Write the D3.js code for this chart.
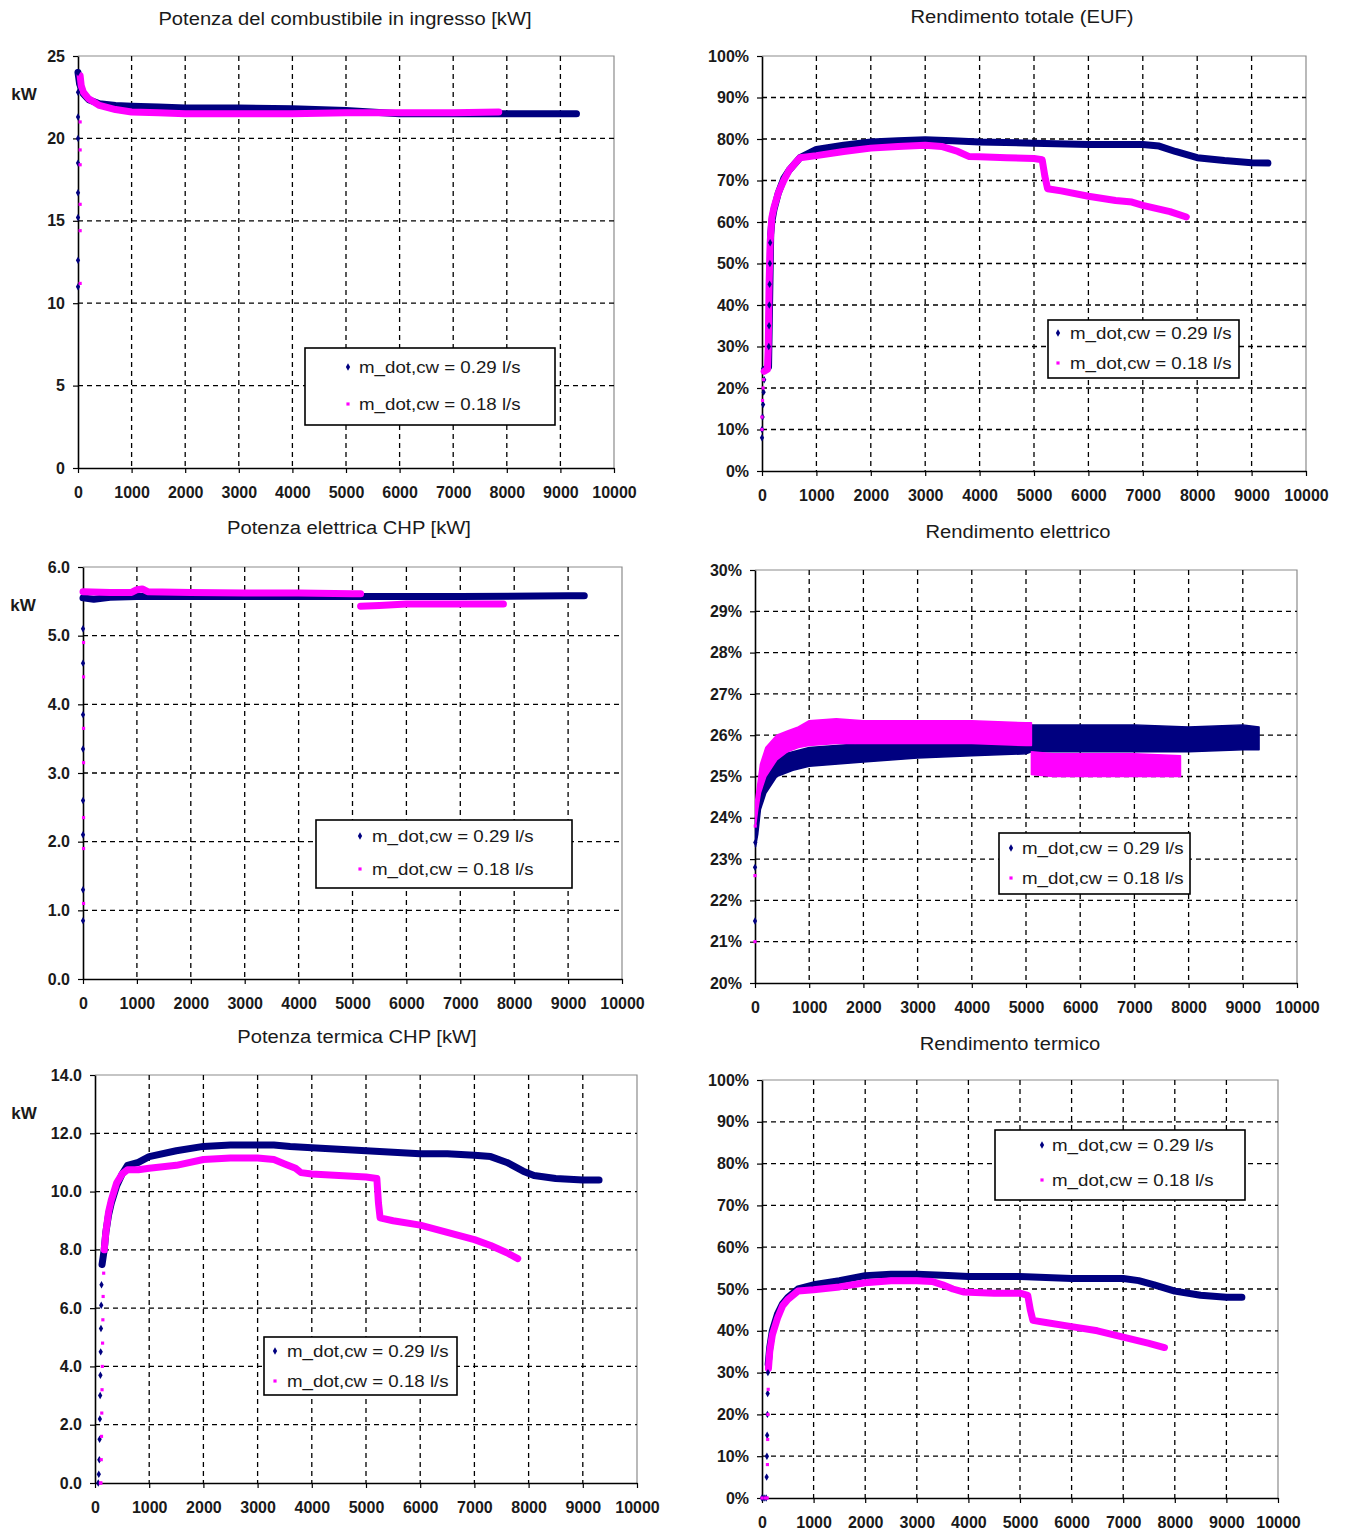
<!DOCTYPE html>
<html>
<head>
<meta charset="utf-8">
<script src="https://cdn.jsdelivr.net/npm/d3@7"></script>
<style>
  body { margin: 0; background: #fff; }
  svg text { font-family: "Liberation Sans", Arial, sans-serif; fill: #1a1a1a; }
</style>
</head>
<body>
<svg id="chart" width="1345" height="1531"></svg>
<script>
// ---- shared ----
const xTicks = [0, 1000, 2000, 3000, 4000, 5000, 6000, 7000, 8000, 9000, 10000];
const seriesLabels = ["m_dot,cw = 0.29 l/s", "m_dot,cw = 0.18 l/s"];
const panelTitles = [
  "Potenza del combustibile in ingresso [kW]",
  "Rendimento totale (EUF)",
  "Potenza elettrica CHP [kW]",
  "Rendimento elettrico",
  "Potenza termica CHP [kW]",
  "Rendimento termico"
];

// ---- fuel input power [kW] ----
const fuelTicks = [0, 5, 10, 15, 20, 25];
const fuelDots29T = [0, 0, 0, 0, 0, 0, 0, 0, 0];
const fuelDots29V = [11.0, 12.6, 15.2, 16.7, 18.5, 20.0, 21.3, 22.8, 24.0];
const fuelLine29T = [0, 30, 100, 200, 400, 700, 1000, 1500, 2000, 3000, 4000, 5000, 6000, 7000, 8000, 9000, 9300];
const fuelLine29V = [24.0, 23.3, 22.7, 22.35, 22.1, 22.0, 21.95, 21.9, 21.85, 21.85, 21.8, 21.7, 21.5, 21.5, 21.5, 21.5, 21.5];
const fuelDots18T = [40, 40, 40, 40, 40, 40];
const fuelDots18V = [11.2, 14.4, 16.0, 18.4, 19.3, 21.0];
const fuelLine18T = [40, 60, 100, 200, 400, 700, 1000, 1500, 2000, 3000, 4000, 5000, 6000, 7000, 7850];
const fuelLine18V = [23.8, 23.2, 22.8, 22.4, 22.0, 21.75, 21.6, 21.55, 21.5, 21.5, 21.5, 21.55, 21.55, 21.55, 21.6];

// ---- total efficiency EUF [%] ----
const eufTicks = [0, 10, 20, 30, 40, 50, 60, 70, 80, 90, 100];
const eufDots29T = [0, 0, 10, 20, 30, 40, 125, 130, 135, 140, 145, 150];
const eufDots29V = [8, 10, 13, 16, 19, 22, 30, 35, 40, 45, 50, 55];
const eufLine29T = [50, 120, 160, 180, 220, 300, 400, 500, 700, 1000, 1500, 2000, 2500, 3000, 3500, 4000, 5000, 6000, 7000, 7300, 7600, 8000, 8500, 9000, 9300];
const eufLine29V = [24.5, 25, 57, 60, 63, 67, 70.5, 72.5, 75.5, 77.5, 78.5, 79.3, 79.6, 79.8, 79.6, 79.3, 79, 78.7, 78.7, 78.3, 77, 75.5, 74.8, 74.3, 74.2];
const eufDots18T = [0, 0, 10, 20, 30];
const eufDots18V = [10, 13, 17, 20, 22];
const eufLine18T = [40, 100, 115, 130, 150, 180, 220, 300, 400, 500, 700, 1000, 1500, 2000, 2500, 3000, 3300, 3600, 3800, 4000, 4500, 5000, 5150, 5200, 5250, 5500, 6000, 6500, 6800, 7000, 7500, 7800];
const eufLine18V = [24, 24.5, 30, 45, 55, 61, 63.5, 67, 70, 72.5, 75.5, 76, 77, 77.8, 78.2, 78.5, 78.2, 77, 75.8, 75.7, 75.5, 75.3, 75, 71, 68, 67.5, 66.2, 65.2, 64.8, 64, 62.5, 61.2];

// ---- electric power [kW] ----
const elTicks = [0, 1, 2, 3, 4, 5, 6];
const elDots29T = [0, 0, 0, 0, 0, 0, 0, 0];
const elDots29V = [0.85, 1.3, 2.1, 2.6, 3.35, 3.85, 4.6, 5.1];
const elLine29T = [0, 200, 500, 1000, 3000, 5000, 7000, 9000, 9300];
const elLine29V = [5.55, 5.53, 5.56, 5.57, 5.57, 5.57, 5.57, 5.58, 5.58];
const elDots18T = [10, 10, 10, 10, 10, 10, 10];
const elDots18V = [1.1, 1.9, 2.35, 3.15, 3.65, 4.4, 4.9];
const elLine18T = [0, 500, 900, 1000, 1100, 1200, 2000, 3000, 4000, 5000, 5150, 5150, 5150, 5500, 6000, 7000, 7800];
const elLine18V = [5.64, 5.63, 5.63, 5.67, 5.68, 5.64, 5.63, 5.62, 5.62, 5.61, 5.61, null, 5.43, 5.44, 5.46, 5.46, 5.46];

// ---- electric efficiency [%] (scatter band, low/high edges) ----
const etaElTicks = [20, 21, 22, 23, 24, 25, 26, 27, 28, 29, 30];
const etaElDots29T = [0, 0, 5];
const etaElDots29V = [21.5, 22.8, 23.4];
const etaEl29T = [10, 50, 100, 200, 400, 700, 1000, 2000, 3000, 4000, 5000, 5100, 6000, 7000, 8000, 9000, 9300];
const etaEl29Lo = [23.3, 23.6, 24.2, 24.6, 25.0, 25.15, 25.25, 25.35, 25.45, 25.5, 25.55, 25.6, 25.6, 25.6, 25.6, 25.65, 25.65];
const etaEl29Hi = [24.0, 24.6, 25.0, 25.3, 25.5, 25.6, 25.7, 25.8, 25.85, 25.9, 26.0, 26.25, 26.25, 26.25, 26.2, 26.25, 26.2];
const etaElDots18T = [0, 0, 5];
const etaElDots18V = [21.0, 22.6, 23.8];
const etaEl18T = [10, 50, 100, 200, 400, 600, 800, 1000, 1500, 2000, 3000, 4000, 5000, 5100, 5100, 5100, 5500, 6000, 7000, 7850];
const etaEl18Lo = [23.8, 24.2, 24.6, 25.0, 25.4, 25.6, 25.7, 25.75, 25.8, 25.8, 25.8, 25.8, 25.75, 25.75, null, 25.05, 25.0, 25.0, 25.0, 25.0];
const etaEl18Hi = [24.4, 24.8, 25.3, 25.7, 26.0, 26.1, 26.2, 26.35, 26.4, 26.35, 26.35, 26.35, 26.3, 26.3, null, 25.6, 25.55, 25.55, 25.55, 25.5];

// ---- thermal power [kW] ----
const thTicks = [0, 2, 4, 6, 8, 10, 12, 14];
const thDots29T = [60, 70, 80, 85, 90, 95, 100, 105, 110, 115, 120, 130];
const thDots29V = [0, 0.3, 0.8, 1.5, 2.2, 3.0, 3.7, 4.5, 5.3, 6.1, 6.8, 7.5];
const thLine29T = [130, 170, 200, 250, 300, 400, 500, 600, 800, 1000, 1500, 2000, 2500, 3000, 3300, 3600, 4000, 4500, 5000, 5500, 6000, 6500, 7000, 7300, 7600, 7900, 8100, 8500, 9000, 9300];
const thLine29V = [7.5, 8.0, 8.6, 9.2, 9.6, 10.2, 10.6, 10.9, 11.0, 11.2, 11.4, 11.55, 11.6, 11.6, 11.6, 11.55, 11.5, 11.45, 11.4, 11.35, 11.3, 11.3, 11.25, 11.2, 11.0, 10.7, 10.55, 10.45, 10.4, 10.4];
const thDots18T = [100, 110, 115, 120, 125, 130, 135, 140, 145, 150, 160];
const thDots18V = [0, 0, 0.8, 1.6, 2.4, 3.2, 4.0, 4.8, 5.6, 6.4, 7.2];
const thLine18T = [170, 200, 250, 300, 400, 500, 600, 800, 1000, 1500, 2000, 2500, 3000, 3300, 3500, 3700, 3800, 4000, 4500, 5000, 5200, 5230, 5260, 5500, 6000, 6500, 7000, 7300, 7600, 7800];
const thLine18V = [8.0, 8.6, 9.3, 9.7, 10.3, 10.6, 10.75, 10.75, 10.8, 10.9, 11.1, 11.15, 11.15, 11.1, 10.95, 10.8, 10.65, 10.6, 10.55, 10.5, 10.45, 9.6, 9.1, 9.0, 8.85, 8.6, 8.35, 8.15, 7.9, 7.7];

// ---- thermal efficiency [%] ----
const etaThTicks = [0, 10, 20, 30, 40, 50, 60, 70, 80, 90, 100];
const etaThDots29T = [0, 40, 80, 90, 95, 100, 105, 110, 115];
const etaThDots29V = [0, 0, 0, 5, 10, 15, 20, 25, 30];
const etaThLine29T = [120, 150, 200, 300, 400, 500, 700, 1000, 1500, 2000, 2500, 3000, 3500, 4000, 5000, 6000, 7000, 7300, 7600, 8000, 8500, 9000, 9300];
const etaThLine29V = [32, 36, 40, 44, 46.5, 48, 50, 51, 52, 53.2, 53.5, 53.5, 53.3, 53, 53, 52.5, 52.5, 52, 51, 49.5, 48.5, 48, 48];
const etaThDots18T = [0, 60, 100, 105, 110, 115, 120];
const etaThDots18V = [0, 0, 0, 8, 14, 20, 26];
const etaThLine18T = [125, 150, 200, 300, 400, 500, 700, 1000, 1500, 2000, 2500, 3000, 3300, 3500, 3700, 3900, 4500, 5000, 5150, 5200, 5250, 5500, 6000, 6500, 7000, 7500, 7800];
const etaThLine18V = [31, 35, 39, 43, 46, 47.5, 49.5, 49.8, 50.5, 51.5, 52, 52, 51.8, 51, 50, 49.3, 49, 49, 48.5, 45, 42.5, 42, 41, 40, 38.5, 37, 36];

// ---- styling ----
const NAVY = "#000080";
const MAGENTA = "#ff00ff";
const zip = (t, v) => t.map((d, i) => ({ t: d, v: v[i] }));
const zip3 = (t, lo, hi) => t.map((d, i) => ({ t: d, lo: lo[i], hi: hi[i] }));
const intFmt = d3.format("d");
const oneFmt = d3.format(".1f");
const pctFmt = d => d + "%";

const panels = [
  { title: panelTitles[0], tx: 345, ty: 19, left: 78, right: 614, top: 56, bottom: 468,
    yTicks: fuelTicks, fmt: intFmt, unit: [24, 94],
    legend: { x: 305, y: 348, w: 250, h: 77, mx: 348, tx: 359, rows: [367, 404] },
    lines: [[zip(fuelLine29T, fuelLine29V), NAVY], [zip(fuelLine18T, fuelLine18V), MAGENTA]],
    dots: [[zip(fuelDots29T, fuelDots29V), NAVY], [zip(fuelDots18T, fuelDots18V), MAGENTA]] },
  { title: panelTitles[1], tx: 1022, ty: 17, left: 762, right: 1306, top: 56, bottom: 471,
    yTicks: eufTicks, fmt: pctFmt,
    legend: { x: 1048, y: 320, w: 191, h: 58, mx: 1058, tx: 1070, rows: [333, 363] },
    lines: [[zip(eufLine29T, eufLine29V), NAVY], [zip(eufLine18T, eufLine18V), MAGENTA]],
    dots: [[zip(eufDots29T, eufDots29V), NAVY], [zip(eufDots18T, eufDots18V), MAGENTA]] },
  { title: panelTitles[2], tx: 349, ty: 528, left: 83, right: 622, top: 567, bottom: 979,
    yTicks: elTicks, fmt: oneFmt, unit: [23, 605],
    legend: { x: 316, y: 820, w: 256, h: 68, mx: 360, tx: 372, rows: [836, 869] },
    lines: [[zip(elLine29T, elLine29V), NAVY], [zip(elLine18T, elLine18V), MAGENTA]],
    dots: [[zip(elDots29T, elDots29V), NAVY], [zip(elDots18T, elDots18V), MAGENTA]] },
  { title: panelTitles[3], tx: 1018, ty: 532, left: 755, right: 1297, top: 570, bottom: 983,
    yTicks: etaElTicks, fmt: pctFmt,
    legend: { x: 999, y: 833, w: 191, h: 61, mx: 1011, tx: 1022, rows: [848, 878] },
    bands: [[zip3(etaEl29T, etaEl29Lo, etaEl29Hi), NAVY], [zip3(etaEl18T, etaEl18Lo, etaEl18Hi), MAGENTA]],
    dots: [[zip(etaElDots29T, etaElDots29V), NAVY], [zip(etaElDots18T, etaElDots18V), MAGENTA]] },
  { title: panelTitles[4], tx: 357, ty: 1037, left: 95, right: 637, top: 1075, bottom: 1483,
    yTicks: thTicks, fmt: oneFmt, unit: [24, 1113],
    legend: { x: 264, y: 1337, w: 193, h: 58, mx: 275, tx: 287, rows: [1351, 1381] },
    lines: [[zip(thLine29T, thLine29V), NAVY], [zip(thLine18T, thLine18V), MAGENTA]],
    dots: [[zip(thDots29T, thDots29V), NAVY], [zip(thDots18T, thDots18V), MAGENTA]] },
  { title: panelTitles[5], tx: 1010, ty: 1044, left: 762, right: 1278, top: 1080, bottom: 1498,
    yTicks: etaThTicks, fmt: pctFmt,
    legend: { x: 995, y: 1130, w: 250, h: 70, mx: 1042, tx: 1052, rows: [1145, 1180] },
    lines: [[zip(etaThLine29T, etaThLine29V), NAVY], [zip(etaThLine18T, etaThLine18V), MAGENTA]],
    dots: [[zip(etaThDots29T, etaThDots29V), NAVY], [zip(etaThDots18T, etaThDots18V), MAGENTA]] }
];

const svg = d3.select("#chart");
svg.append("rect").attr("width", 1345).attr("height", 1531).attr("fill", "#fff");

// stretch a text element horizontally by a factor
function stretch(sel, factor) {
  sel.each(function () {
    const w = this.getComputedTextLength();
    d3.select(this).attr("textLength", w * factor).attr("lengthAdjust", "spacingAndGlyphs");
  });
}

function marker(g, color, cx, cy) {
  const sym = color === NAVY ? d3.symbolDiamond : d3.symbolSquare;
  const size = color === NAVY ? 16 : 10;
  g.append("path")
    .attr("d", d3.symbol().type(sym).size(size)())
    .attr("transform", `translate(${cx},${cy})`)
    .attr("fill", color);
}

panels.forEach(p => {
  const g = svg.append("g");
  const yMin = d3.min(p.yTicks), yMax = d3.max(p.yTicks);
  const x = d3.scaleLinear().domain([0, 10000]).range([p.left, p.right]);
  const y = d3.scaleLinear().domain([yMin, yMax]).range([p.bottom, p.top]);

  // title
  g.append("text").attr("x", p.tx).attr("y", p.ty + 6).attr("text-anchor", "middle")
    .attr("font-size", 18).text(p.title).call(stretch, 1.12);

  // frame (top/right) in grey
  g.append("path")
    .attr("d", `M${p.left},${p.top}H${p.right}V${p.bottom}`)
    .attr("fill", "none").attr("stroke", "#8c8c8c").attr("stroke-width", 1.2);

  // dashed grid
  const grid = g.append("g").attr("stroke", "#000").attr("stroke-width", 1.3).attr("stroke-dasharray", "5,4");
  grid.selectAll("line.v").data(xTicks.filter(t => t > 0 && t < 10000)).join("line")
    .attr("x1", d => x(d)).attr("x2", d => x(d)).attr("y1", p.top).attr("y2", p.bottom);
  grid.selectAll("line.h").data(p.yTicks.filter(t => t > yMin && t < yMax)).join("line")
    .attr("y1", d => y(d)).attr("y2", d => y(d)).attr("x1", p.left).attr("x2", p.right);

  // axes
  const ax = g.append("g").attr("transform", `translate(0,${p.bottom})`)
    .call(d3.axisBottom(x).tickValues(xTicks).tickSize(5).tickSizeOuter(0).tickPadding(14).tickFormat(intFmt));
  const ay = g.append("g").attr("transform", `translate(${p.left},0)`)
    .call(d3.axisLeft(y).tickValues(p.yTicks).tickSize(5).tickSizeOuter(0).tickPadding(8).tickFormat(p.fmt));
  [ax, ay].forEach(a => {
    a.attr("font-size", 16).attr("font-family", null).attr("font-weight", "bold");
    a.select(".domain").attr("stroke", "#000").attr("stroke-width", 1.6);
    a.selectAll(".tick line").attr("stroke", "#000").attr("stroke-width", 1.2);
    a.selectAll(".tick text").attr("fill", "#222");
  });

  if (p.unit) {
    g.append("text").attr("x", p.unit[0]).attr("y", p.unit[1] + 6).attr("text-anchor", "middle")
      .attr("font-size", 17).attr("font-weight", "bold").attr("fill", "#333").text("kW");
  }

  // series
  const plot = g.append("g");
  if (p.bands) {
    const area = d3.area().defined(d => d.lo != null)
      .x(d => x(d.t)).y0(d => y(d.lo)).y1(d => y(d.hi));
    p.bands.forEach(([data, color]) => {
      plot.append("path").datum(data).attr("d", area)
        .attr("fill", color).attr("stroke", color).attr("stroke-width", 1.5).attr("stroke-linejoin", "round");
    });
  }
  if (p.lines) {
    const line = d3.line().defined(d => d.v != null).x(d => x(d.t)).y(d => y(d.v));
    p.lines.forEach(([data, color]) => {
      plot.append("path").datum(data).attr("d", line)
        .attr("fill", "none").attr("stroke", color).attr("stroke-width", 7)
        .attr("stroke-linejoin", "round").attr("stroke-linecap", "round");
    });
  }
  p.dots.forEach(([data, color]) => {
    data.forEach(d => marker(plot, color, x(d.t), y(d.v)));
  });

  // legend
  const L = p.legend;
  g.append("rect").attr("x", L.x).attr("y", L.y).attr("width", L.w).attr("height", L.h)
    .attr("fill", "#fff").attr("stroke", "#000").attr("stroke-width", 1.6);
  [NAVY, MAGENTA].forEach((color, i) => {
    marker(g, color, L.mx, L.rows[i]);
    g.append("text").attr("x", L.tx).attr("y", L.rows[i] + 6).attr("font-size", 17)
      .text(seriesLabels[i]).call(stretch, 1.1);
  });
});
</script>
</body>
</html>
